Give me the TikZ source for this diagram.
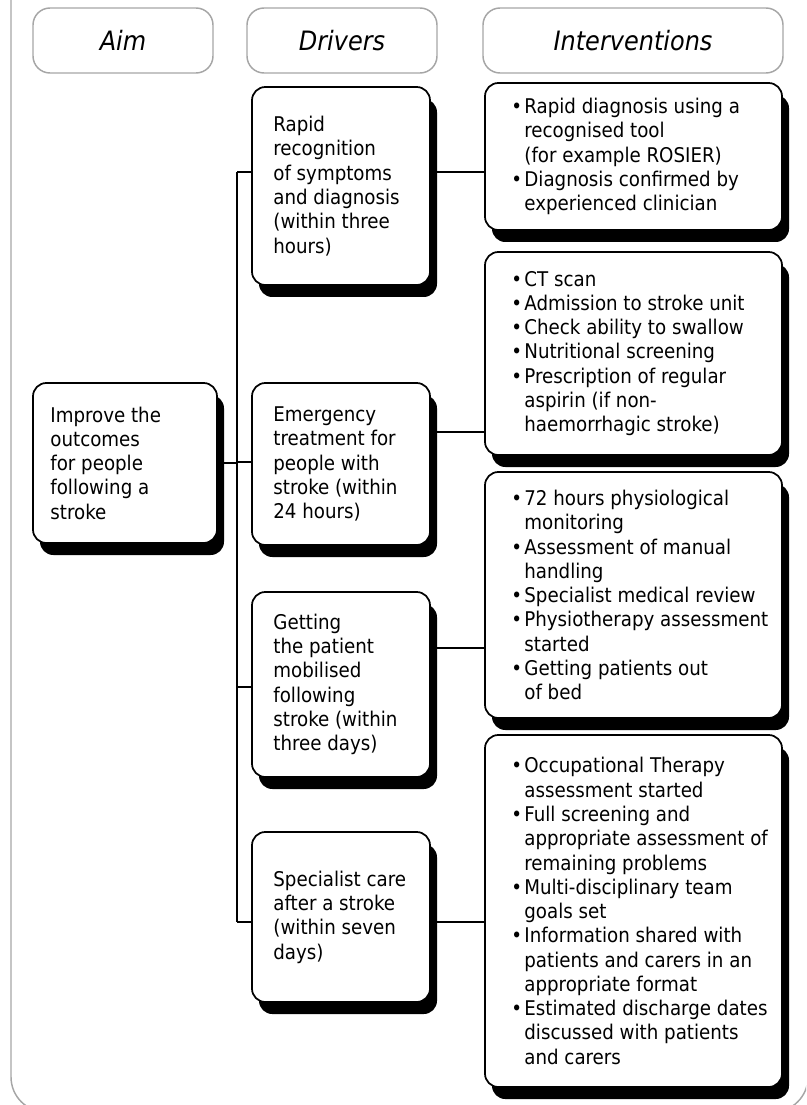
\documentclass[tikz,border=0pt]{standalone}
\usepackage{fontspec}
\setmainfont{DejaVu Sans Condensed}
\usetikzlibrary{shadows}
\definecolor{headgray}{RGB}{166,166,166}
\newlength\bulw
\setlength\bulw{9.75pt}
\newcommand\itm{\makebox[\bulw][l]{•}}
\newcommand\cont{\hspace*{\bulw}}

\begin{document}
\begin{tikzpicture}[x=0.75pt,y=-0.75pt,
  head/.style={draw=headgray, line width=1.1pt, rounded corners=12.75pt,
    minimum height=65*0.75pt, inner sep=0pt,
    font=\fontsize{20pt}{22pt}\selectfont\itshape},
  card/.style={draw=black, fill=white, line width=1.3pt, rounded corners=10pt,
    inner sep=0pt,
    drop shadow={shadow xshift=5.25pt, shadow yshift=-9pt, opacity=1, fill=black}},
  body/.style={anchor=west, align=left, inner sep=0pt,
    font=\fontsize{15.2pt}{18.2pt}\selectfont},
  link/.style={line width=1.5pt}
]
\useasboundingbox (0,0) rectangle (806,1105);
\clip (0,0) rectangle (806,1105);

% outer frame
\draw[headgray, line width=1.1pt, rounded corners=26.25pt] (11,-60) rectangle (808,1112);

% column headings
\node[head, minimum width=180*0.75pt] (hAim) at (123,40.5) {Aim};
\node[head, minimum width=190*0.75pt] (hDrv) at (342,40.5) {Drivers};
\node[head, minimum width=300*0.75pt] (hInt) at (633,40.5) {Interventions};

% aim
\node[card, minimum width=184*0.75pt, minimum height=160*0.75pt] (aim) at (125,463) {};
\node[body] (aimT) at ([xshift=13.5pt]aim.west)
  {Improve the\\outcomes\\for people\\following a\\stroke};

% drivers
\node[card, minimum width=178*0.75pt, minimum height=198*0.75pt] (d1) at (341,186) {};
\node[card, minimum width=178*0.75pt, minimum height=162*0.75pt] (d2) at (341,464) {};
\node[card, minimum width=178*0.75pt, minimum height=185*0.75pt] (d3) at (341,684.5) {};
\node[card, minimum width=178*0.75pt, minimum height=170*0.75pt] (d4) at (341,917) {};

\node[body] (d1T) at ([xshift=16.5pt]d1.west)
  {Rapid\\recognition\\of symptoms\\and diagnosis\\(within three\\hours)};
\node[body] (d2T) at ([xshift=16.5pt]d2.west)
  {Emergency\\treatment for\\people with\\stroke (within\\24 hours)};
\node[body] (d3T) at ([xshift=16.5pt]d3.west)
  {Getting\\the patient\\mobilised\\following\\stroke (within\\three days)};
\node[body] (d4T) at ([xshift=16.5pt]d4.west)
  {Specialist care\\after a stroke\\(within seven\\days)};

% interventions
\node[card, minimum width=297*0.75pt, minimum height=147*0.75pt] (i1) at (633.5,156.5) {};
\node[card, minimum width=297*0.75pt, minimum height=203*0.75pt] (i2) at (633.5,353.5) {};
\node[card, minimum width=297*0.75pt, minimum height=246*0.75pt] (i3) at (633.5,595) {};
\node[card, minimum width=297*0.75pt, minimum height=352*0.75pt] (i4) at (633.5,911) {};

\node[body] (i1T) at ([xshift=20.25pt]i1.west)
  {\itm Rapid diagnosis using a\\
   \cont recognised tool\\
   \cont (for example ROSIER)\\
   \itm Diagnosis confirmed by\\
   \cont experienced clinician};
\node[body] (i2T) at ([xshift=20.25pt]i2.west)
  {\itm CT scan\\
   \itm Admission to stroke unit\\
   \itm Check ability to swallow\\
   \itm Nutritional screening\\
   \itm Prescription of regular\\
   \cont aspirin (if non-\\
   \cont haemorrhagic stroke)};
\node[body] (i3T) at ([xshift=20.25pt]i3.west)
  {\itm 72 hours physiological\\
   \cont monitoring\\
   \itm Assessment of manual\\
   \cont handling\\
   \itm Specialist medical review\\
   \itm Physiotherapy assessment\\
   \cont started\\
   \itm Getting patients out\\
   \cont of bed};
\node[body] (i4T) at ([xshift=20.25pt]i4.west)
  {\itm Occupational Therapy\\
   \cont assessment started\\
   \itm Full screening and\\
   \cont appropriate assessment of\\
   \cont remaining problems\\
   \itm Multi-disciplinary team\\
   \cont goals set\\
   \itm Information shared with\\
   \cont patients and carers in an\\
   \cont appropriate format\\
   \itm Estimated discharge dates\\
   \cont discussed with patients\\
   \cont and carers};

% connectors
\coordinate (bt) at (237,172);
\coordinate (bb) at (237,922);
\coordinate (l2) at (237,462);
\coordinate (l3) at (237,687);
\coordinate (r2) at (0,432);
\coordinate (r3) at (0,648);

\draw[link] (bt) -- (bb);
\draw[link] (aim.east) -- (aim.east -| bt);
\draw[link] (bt) -- (bt -| d1.west);
\draw[link] (l2) -- (l2 -| d2.west);
\draw[link] (l3) -- (l3 -| d3.west);
\draw[link] (bb) -- (bb -| d4.west);
\draw[link] (bt -| d1.east) -- (bt -| i1.west);
\draw[link] (r2 -| d2.east) -- (r2 -| i2.west);
\draw[link] (r3 -| d3.east) -- (r3 -| i3.west);
\draw[link] (bb -| d4.east) -- (bb -| i4.west);
\end{tikzpicture}
\end{document}
